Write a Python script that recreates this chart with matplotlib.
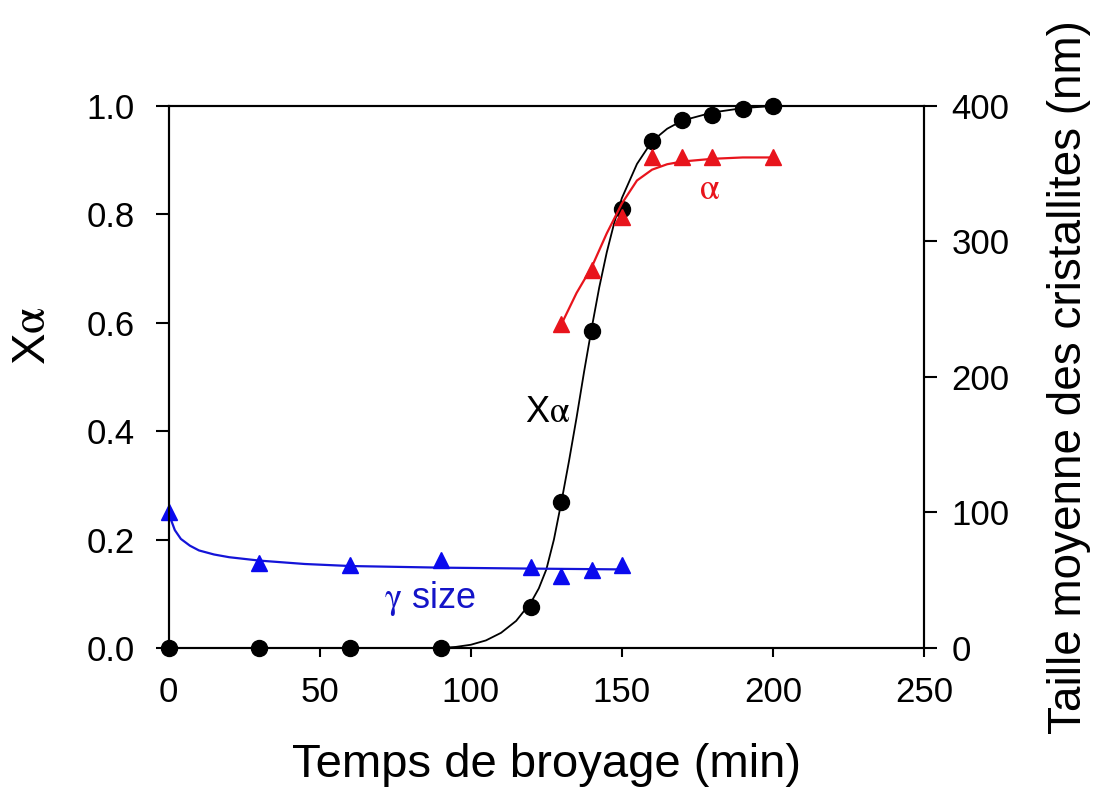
import numpy as np
import matplotlib
matplotlib.use("Agg")
import matplotlib.pyplot as plt

# Fraction de phase alpha (points mesurés)
t_xa = [0, 30, 60, 90, 120, 130, 140, 150, 160, 170, 180, 190, 200]
xa = [0.0, 0.0, 0.0, 0.0, 0.075, 0.27, 0.585, 0.81, 0.935, 0.975, 0.983, 0.995, 1.0]

# Courbe d'ajustement Xa
t_xa_fit = [90, 95, 100, 105, 110, 115, 120, 122.5, 125, 127.5, 130, 132.5, 135,
            137.5, 140, 142.5, 145, 147.5, 150, 155, 160, 165, 170, 180, 190, 200]
xa_fit = [0.0, 0.002, 0.006, 0.014, 0.028, 0.05, 0.085, 0.11, 0.145, 0.2, 0.27, 0.345,
          0.425, 0.51, 0.59, 0.665, 0.73, 0.785, 0.83, 0.893, 0.935, 0.958, 0.973, 0.988, 0.996, 1.0]

# Taille des cristallites alpha (nm)
t_alpha = [130, 140, 150, 160, 170, 180, 200]
size_alpha = [239, 279, 318, 362, 362, 362, 362]
t_alpha_fit = [130, 135, 140, 145, 150, 155, 160, 165, 170, 180, 190, 200]
size_alpha_fit = [239, 262, 281, 306, 328, 345, 353, 357, 359, 361, 362, 362]

# Taille des cristallites gamma (nm)
t_gamma = [0, 30, 60, 90, 120, 130, 140, 150]
size_gamma = [100, 63, 61, 65, 59.5, 53, 57.5, 61]
t_gamma_fit = [0, 1, 2, 4, 7, 10, 15, 20, 30, 45, 60, 90, 120, 150]
size_gamma_fit = [100, 93, 87, 80.5, 75.5, 72, 69, 67, 64.5, 62, 60.5, 59.3, 58.6, 58]

plt.rcParams['font.family'] = ['Liberation Sans', 'DejaVu Sans']
plt.rcParams['mathtext.fontset'] = 'stix'

fig = plt.figure(figsize=(10.96, 7.89), dpi=100)
ax = fig.add_axes([0.154, 0.1787, 0.689, 0.687])
ax2 = ax.twinx()

# Xa
ax.plot(t_xa_fit, xa_fit, color='black', lw=1.3, zorder=3)
ax.plot(t_xa, xa, 'o', color='black', ms=11.5, clip_on=False, zorder=4)

# tailles
ax2.plot(t_alpha_fit, size_alpha_fit, color='#e8141c', lw=1.6)
ax2.plot(t_alpha, size_alpha, '^', color='#e8141c', ms=11.5, clip_on=False)
ax2.plot(t_gamma_fit, size_gamma_fit, color='#1414d8', lw=1.6)
ax2.plot(t_gamma, size_gamma, '^', color='#0a0aee', ms=11.5, clip_on=False)

ax.set_xlim(0, 250)
ax.set_ylim(0, 1.0)
ax2.set_ylim(0, 400)
ax.set_xticks([0, 50, 100, 150, 200, 250])
ax.set_yticks([0.0, 0.2, 0.4, 0.6, 0.8, 1.0])
ax.set_yticklabels(['0.0', '0.2', '0.4', '0.6', '0.8', '1.0'])
ax2.set_yticks([0, 100, 200, 300, 400])

for a in (ax, ax2):
    for s in a.spines.values():
        s.set_linewidth(1.5)

ax.tick_params(axis='y', direction='out', length=9.5, width=1.5, pad=15, labelsize=25)
ax.tick_params(axis='x', direction='out', length=6.5, width=1.5, pad=14, labelsize=25)
ax2.tick_params(axis='y', direction='out', length=9, width=1.5, pad=11, labelsize=25)

ax.set_xlabel('Temps de broyage (min)', fontsize=34)
ax.xaxis.set_label_coords(0.5, -0.176)
ax.set_ylabel(r'X$\mathrm{\alpha}$', fontsize=34)
ax.yaxis.set_label_coords(-0.151, 0.576)
ax2.set_ylabel('Taille moyenne des cristallites (nm)', fontsize=33)
ax2.yaxis.set_label_coords(1.163, 0.5)

# annotations
ax.text(125.5, 0.435, r'X$\mathrm{\alpha}$', fontsize=26, ha='center', va='center')
ax.text(179, 0.845, r'$\mathrm{\alpha}$', fontsize=26, color='#e8141c', ha='center', va='center')
ax.text(86.5, 0.092, r'$\mathrm{\gamma}$ size', fontsize=26, color='#1414c8', ha='center', va='center')

fig.savefig('out.png', dpi=100)
